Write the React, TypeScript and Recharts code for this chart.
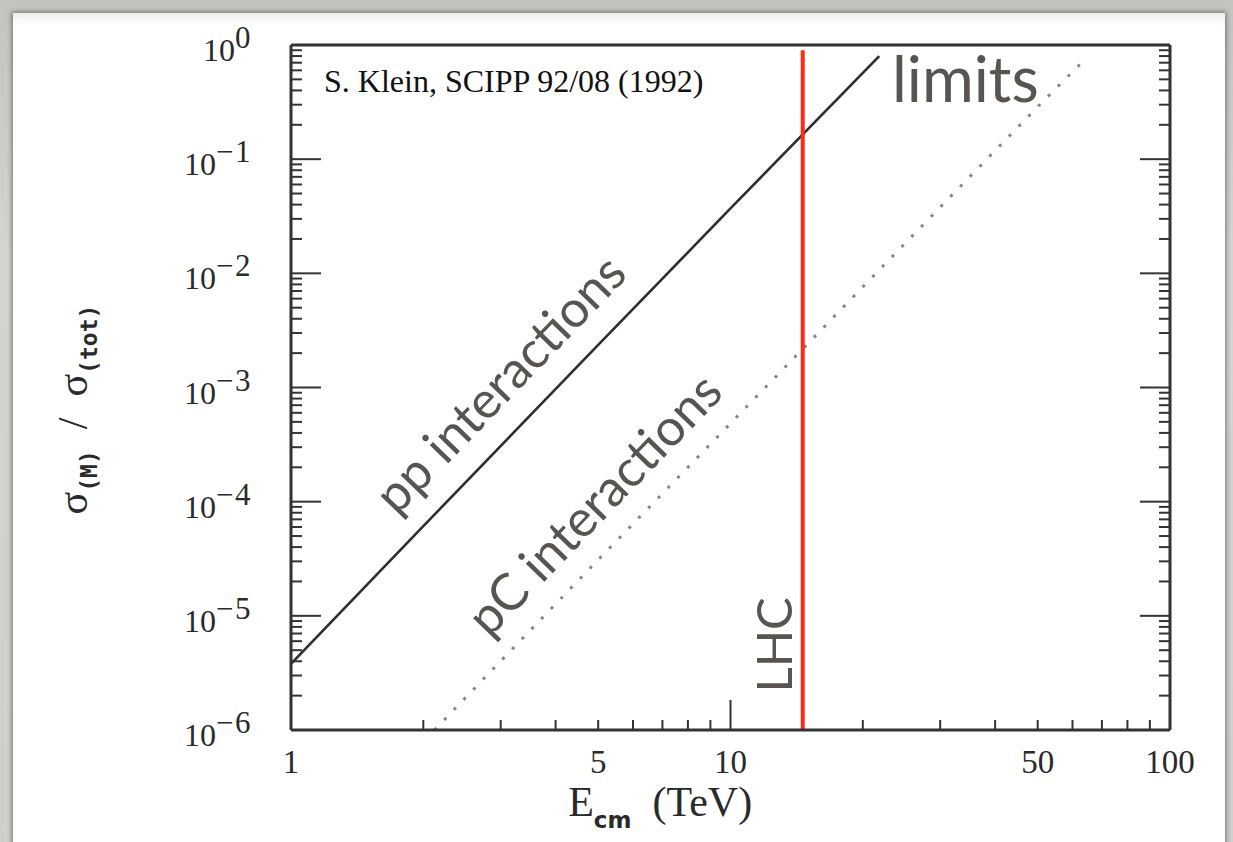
import React from "react";
import { ComposedChart, Line, XAxis, YAxis, ReferenceLine, ReferenceDot } from "recharts";

// ---- data ----
const ppEnergy = [1, 2, 5, 10, 21.8];
const ppRatio = [3.8e-6, 6.1e-5, 2.36e-3, 0.037, 0.8];
const pcEnergy = [2.12, 5, 10, 20, 50, 64.5];
const pcRatio = [1.0e-6, 3.1e-5, 4.85e-4, 7.6e-3, 0.288, 0.77];
const lhcEnergy = 14.6;
const lhcTop = 0.9;
const lhcBottom = 1e-6;

const xDecadeStarts = [1, 10];
const xMantissas = [1, 2, 3, 4, 5, 6, 7, 8, 9];
const xEnd = 100;
const xLabelTicks = [1, 5, 10, 50, 100];
const yDecades = [-6, -5, -4, -3, -2, -1];
const yMantissas = [1, 2, 3, 4, 5, 6, 7, 8, 9];
const yExponentLabels: Record<string, string> = {
  "-6": "−6", "-5": "−5", "-4": "−4", "-3": "−3", "-2": "−2", "-1": "−1", "0": "0",
};

const ppData = ppEnergy.map((e, i) => ({ e, v: ppRatio[i] }));
const pcData = pcEnergy.map((e, i) => ({ e, v: pcRatio[i] }));

const xTicks: number[] = [];
xDecadeStarts.forEach((d) => xMantissas.forEach((m) => xTicks.push(m * d)));
xTicks.push(xEnd);
const yTicks: number[] = [];
yDecades.forEach((d) => yMantissas.forEach((m) => yTicks.push(Number((m * Math.pow(10, d)).toPrecision(6)))));
yTicks.push(1);

const SERIF = "'Liberation Serif', 'Times New Roman', serif";
const SANS = "Lato, 'Open Sans', sans-serif";
const AXIS = "#333333";
const NOTE = "#58544f";

const isPow10 = (v: number) => Math.abs(Math.log10(v) - Math.round(Math.log10(v))) < 1e-6;

const BottomTick = (props: any) => {
  const { x, y, payload } = props;
  const v = payload.value;
  const len = isPow10(v) ? 30 : 10;
  return (
    <g>
      <line x1={x} x2={x} y1={y} y2={y - len} stroke={AXIS} strokeWidth={2} />
      {xLabelTicks.includes(v) && (
        <text x={x} y={y + 43} textAnchor="middle" fontFamily={SERIF} fontSize={33} fill="#2a2a2a">
          {String(v)}
        </text>
      )}
    </g>
  );
};

const TopTick = (props: any) => {
  const { x, y, payload } = props;
  const len = isPow10(payload.value) ? 30 : 10;
  return <line x1={x} x2={x} y1={y} y2={y + len} stroke={AXIS} strokeWidth={2} />;
};

const LeftTick = (props: any) => {
  const { x, y, payload } = props;
  const v = payload.value;
  const major = isPow10(v);
  const len = major ? 30 : 11;
  const exp = String(Math.round(Math.log10(v)));
  return (
    <g>
      <line x1={x} x2={x + len} y1={y} y2={y} stroke={AXIS} strokeWidth={2} />
      {major && (
        <text x={x - 39} y={y + 16} textAnchor="end" fontFamily={SERIF} fontSize={32} fill="#2a2a2a">
          <tspan>10</tspan>
          <tspan dy={-13} fontSize={31} letterSpacing={1.5}>{yExponentLabels[exp]}</tspan>
        </text>
      )}
    </g>
  );
};

const RightTick = (props: any) => {
  const { x, y, payload } = props;
  const len = isPow10(payload.value) ? 30 : 11;
  return <line x1={x} x2={x - len} y1={y} y2={y} stroke={AXIS} strokeWidth={2} />;
};

const Annot = (props: any) => {
  const { viewBox, txt, rot, anchor, size, family, color } = props;
  const vb = viewBox || { x: 0, y: 0, width: 0, height: 0 };
  const x = vb.x + (vb.width || 0) / 2;
  const y = vb.y + (vb.height || 0) / 2;
  return (
    <text
      x={x}
      y={y}
      transform={rot ? `rotate(${rot} ${x} ${y})` : undefined}
      textAnchor={anchor}
      fontFamily={family}
      fontSize={size}
      fill={color}
    >
      {txt}
    </text>
  );
};

const XTitle = (props: any) => {
  const vb = props.viewBox || { x: 291, y: 730, width: 879, height: 30 };
  const x = vb.x + vb.width * 0.42;
  const y = vb.y + 86;
  return (
    <text x={x} y={y} textAnchor="middle" fontFamily={SERIF} fontSize={42} fill="#2a2a2a">
      <tspan>E</tspan>
      <tspan dy={12} fontSize={23} fontWeight="bold" fontFamily="'DejaVu Sans', sans-serif">cm</tspan>
      <tspan dy={-12}>{"\u00a0\u00a0(TeV)"}</tspan>
    </text>
  );
};

const YTitle = (props: any) => {
  const vb = props.viewBox || { x: 231, y: 45, width: 60, height: 685 };
  const x = vb.x - 144;
  const y = vb.y + vb.height / 2 + 22;
  return (
    <text
      x={x}
      y={y}
      transform={`rotate(-90 ${x} ${y})`}
      textAnchor="middle"
      fontFamily={SERIF}
      fontSize={42}
      fill="#2a2a2a"
    >
      <tspan>σ</tspan>
      <tspan dy={10} fontSize={23} fontWeight="bold" fontFamily="'DejaVu Sans Mono', monospace">(M)</tspan>
      <tspan dy={-10}>{"\u00a0\u00a0/\u00a0\u00a0σ"}</tspan>
      <tspan dy={10} fontSize={23} fontWeight="bold" fontFamily="'DejaVu Sans Mono', monospace">(tot)</tspan>
    </text>
  );
};

export default function App() {
  return (
    <div
      style={{
        position: "fixed",
        left: 0,
        top: 0,
        width: 1233,
        height: 842,
        overflow: "hidden",
        background: "linear-gradient(180deg, #c4c4bf 0%, #d4d4d0 30%, #d0d0cb 100%)",
      }}
    >
      <div
        style={{
          position: "absolute",
          left: 13,
          top: 13,
          width: 1212,
          height: 840,
          background: "#ffffff",
          boxShadow: "0 0 5px 1px rgba(0,0,0,0.45), inset 0 10px 12px -8px rgba(0,0,0,0.12)",
        }}
      />
      <div style={{ position: "absolute", left: 0, top: 0 }}>
        <ComposedChart width={1233} height={842} margin={{ top: 15, right: 3, bottom: 82, left: 231 }}>
          <XAxis
            xAxisId={0}
            dataKey="e"
            type="number"
            scale="log"
            domain={[1, 100]}
            allowDataOverflow
            ticks={xTicks}
            interval={0}
            tickSize={0}
            tickMargin={0}
            tickLine={false}
            tick={<BottomTick />}
            axisLine={{ stroke: AXIS, strokeWidth: 3 }}
            height={30}
            label={<XTitle />}
          />
          <XAxis
            xAxisId="top"
            orientation="top"
            type="number"
            scale="log"
            domain={[1, 100]}
            allowDataOverflow
            ticks={xTicks}
            interval={0}
            tickSize={0}
            tickMargin={0}
            tickLine={false}
            tick={<TopTick />}
            axisLine={{ stroke: AXIS, strokeWidth: 3 }}
            height={30}
          />
          <YAxis
            yAxisId={0}
            type="number"
            scale="log"
            domain={[1e-6, 1]}
            allowDataOverflow
            ticks={yTicks}
            interval={0}
            tickSize={0}
            tickMargin={0}
            tickLine={false}
            tick={<LeftTick />}
            axisLine={{ stroke: AXIS, strokeWidth: 3 }}
            width={60}
            label={<YTitle />}
          />
          <YAxis
            yAxisId="right"
            orientation="right"
            type="number"
            scale="log"
            domain={[1e-6, 1]}
            allowDataOverflow
            ticks={yTicks}
            interval={0}
            tickSize={0}
            tickMargin={0}
            tickLine={false}
            tick={<RightTick />}
            axisLine={{ stroke: AXIS, strokeWidth: 3 }}
            width={60}
          />
          <Line
            data={ppData}
            dataKey="v"
            xAxisId={0}
            yAxisId={0}
            stroke="#2e2e2e"
            strokeWidth={2.6}
            dot={false}
            isAnimationActive={false}
          />
          <Line
            data={pcData}
            dataKey="v"
            xAxisId={0}
            yAxisId={0}
            stroke="#858585"
            strokeWidth={3}
            strokeDasharray="3 11"
            dot={false}
            isAnimationActive={false}
          />
          <ReferenceLine
            xAxisId={0}
            yAxisId={0}
            segment={[
              { x: lhcEnergy, y: lhcTop },
              { x: lhcEnergy, y: lhcBottom },
            ]}
            stroke="#ff2a14"
            strokeWidth={4}
          />
          <ReferenceDot
            xAxisId={0}
            yAxisId={0}
            x={1.189}
            y={0.388}
            r={0}
            fill="none"
            stroke="none"
            label={<Annot txt="S. Klein, SCIPP 92/08 (1992)" anchor="start" size={32} family={SERIF} color="#111" />}
          />
          <ReferenceDot
            xAxisId={0}
            yAxisId={0}
            x={23.3}
            y={0.317}
            r={0}
            fill="none"
            stroke="none"
            label={<Annot txt="limits" anchor="start" size={63} family={SANS} color={NOTE} />}
          />
          <ReferenceDot
            xAxisId={0}
            yAxisId={0}
            x={3.2}
            y={8.4e-4}
            r={0}
            fill="none"
            stroke="none"
            label={<Annot txt="pp interactions" rot={-46} anchor="middle" size={51} family={SANS} color={NOTE} />}
          />
          <ReferenceDot
            xAxisId={0}
            yAxisId={0}
            x={5.24}
            y={7.4e-5}
            r={0}
            fill="none"
            stroke="none"
            label={<Annot txt="pC interactions" rot={-46} anchor="middle" size={51} family={SANS} color={NOTE} />}
          />
          <ReferenceDot
            xAxisId={0}
            yAxisId={0}
            x={13.8}
            y={5.57e-6}
            r={0}
            fill="none"
            stroke="none"
            label={<Annot txt="LHC" rot={-90} anchor="middle" size={49} family={SANS} color={NOTE} />}
          />
        </ComposedChart>
      </div>
    </div>
  );
}
